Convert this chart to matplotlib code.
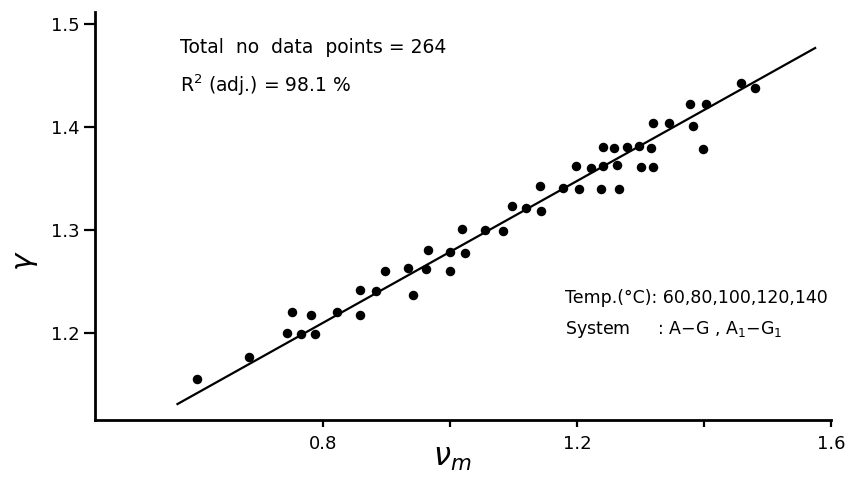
import matplotlib
matplotlib.use('Agg')
import matplotlib.pyplot as plt

# Data
vm = [0.601, 0.682, 0.742, 0.750, 0.764, 0.780, 0.786, 0.822, 0.858, 0.858,
      0.883, 0.897, 0.934, 0.941, 0.961, 0.965, 0.999, 1.000, 1.019, 1.023,
      1.055, 1.083, 1.098, 1.120, 1.142, 1.143, 1.177, 1.198, 1.203, 1.222,
      1.238, 1.240, 1.240, 1.258, 1.262, 1.266, 1.279, 1.298, 1.300, 1.316,
      1.319, 1.319, 1.344, 1.377, 1.382, 1.398, 1.403, 1.458, 1.481]
gamma = [1.155, 1.177, 1.200, 1.220, 1.199, 1.218, 1.199, 1.220, 1.242, 1.218,
         1.241, 1.260, 1.263, 1.237, 1.262, 1.281, 1.279, 1.260, 1.301, 1.278,
         1.300, 1.299, 1.323, 1.322, 1.343, 1.319, 1.341, 1.362, 1.340, 1.360,
         1.340, 1.362, 1.381, 1.380, 1.363, 1.340, 1.381, 1.382, 1.361, 1.380,
         1.361, 1.404, 1.404, 1.423, 1.401, 1.379, 1.423, 1.443, 1.438]

# fitted regression line (end points)
fit_x = [0.57, 1.575]
fit_y = [1.131, 1.477]

xticks = [0.8, 1.0, 1.2, 1.4, 1.6]
xticklabels = ['0.8', '', '1.2', '', '1.6']
yticks = [1.2, 1.3, 1.4, 1.5]
yticklabels = ['1.2', '1.3', '1.4', '1.5']

fig = plt.figure(figsize=(8.5, 4.9), dpi=100)
ax = fig.add_axes([95/850, 1 - 420/490, 736/850, 408/490])

ax.plot(fit_x, fit_y, color='black', lw=1.6)
ax.scatter(vm, gamma, s=34, color='black', zorder=3)

ax.set_xlim(0.44, 1.6)
ax.set_ylim(1.1155, 1.512)
ax.set_xticks(xticks)
ax.set_xticklabels(xticklabels)
ax.set_yticks(yticks)
ax.set_yticklabels(yticklabels)
ax.tick_params(axis='both', direction='out', width=1.6, labelsize=13, color='black')
ax.tick_params(axis='x', length=5, pad=6)
ax.tick_params(axis='y', length=8, pad=3)

for side in ['top', 'right']:
    ax.spines[side].set_visible(False)
for side in ['left', 'bottom']:
    ax.spines[side].set_linewidth(2)

ax.set_xlabel(r'$\nu_m$', fontsize=22)
ax.xaxis.set_label_coords(0.485, -0.06)
ax.set_ylabel(r'$\gamma$', fontsize=21)
ax.yaxis.set_label_coords(-0.075, 0.39)

ax.text(0.115, 0.914, 'Total  no  data  points = 264', transform=ax.transAxes,
        fontsize=13.5, va='center', ha='left')
ax.text(0.115, 0.821, r'R$^2$ (adj.) = 98.1 %', transform=ax.transAxes,
        fontsize=13.5, va='center', ha='left')
ax.text(0.639, 0.299, 'Temp.(°C): 60,80,100,120,140', transform=ax.transAxes,
        fontsize=12.5, va='center', ha='left')
ax.text(0.639, 0.221, r'System     : A$-$G , A$_1$$-$G$_1$', transform=ax.transAxes,
        fontsize=12.5, va='center', ha='left')

fig.savefig('out.png', dpi=100)
